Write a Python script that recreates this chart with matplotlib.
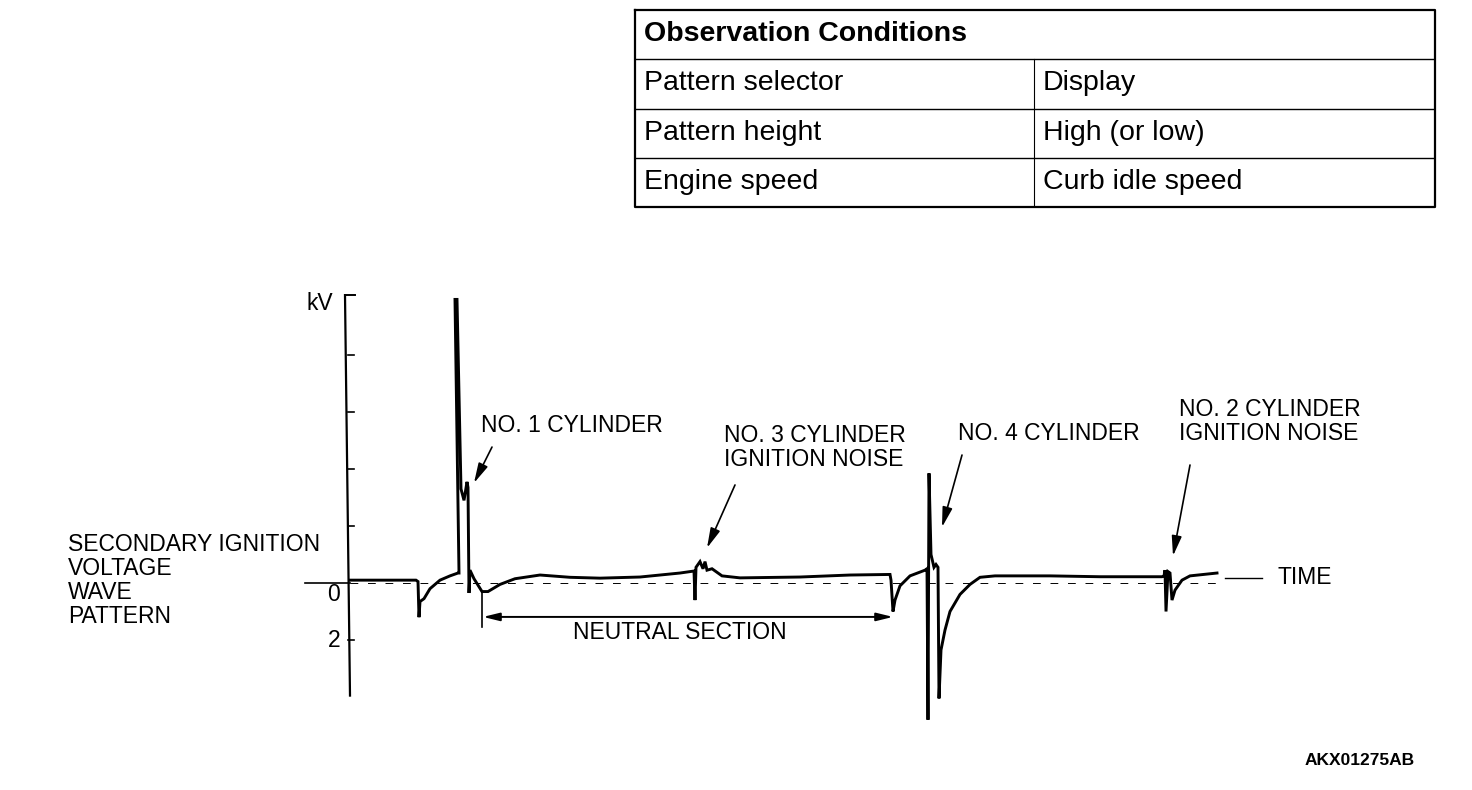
import matplotlib.pyplot as plt
import numpy as np

plt.rcParams['font.family'] = ['Liberation Sans', 'DejaVu Sans']

# secondary ignition voltage trace: time (arbitrary units), voltage (kV)
t_trace = [0, 66, 68, 69, 70, 74, 80, 90, 100, 108, 109,
           105, 107, 111, 114, 117, 118, 119, 120, 124, 132, 138, 150, 165, 190, 220, 250, 290, 330, 344,
           345, 346, 350, 353, 355, 357, 362, 372, 390, 450, 500, 540,
           541, 543, 545, 550, 560, 575, 577, 578, 579, 581, 584, 586, 588, 589, 591, 595, 600, 610, 620,
           630, 645, 700, 750, 812, 814,
           815, 816, 818, 820, 822, 825, 832, 840, 867]
kv_trace = [0.1, 0.1, 0.05, -1.2, -0.65, -0.55, -0.2, 0.1, 0.25, 0.35, 0.35,
            9.95, 9.95, 3.3, 2.9, 3.55, 3.35, -0.35, 0.45, 0.15, -0.3, -0.3, -0.05, 0.15, 0.28, 0.2, 0.17, 0.21, 0.35, 0.42,
            -0.6, 0.55, 0.75, 0.5, 0.75, 0.45, 0.5, 0.25, 0.18, 0.21, 0.28, 0.3,
            0.1, -1.0, -0.6, -0.1, 0.25, 0.45, 0.5, -4.8, 3.85, 1.0, 0.55, 0.65, 0.55, -4.05, -2.35, -1.65, -1.0, -0.4, -0.05,
            0.2, 0.25, 0.25, 0.22, 0.22, 0.25,
            0.45, -1.0, 0.4, 0.35, -0.6, -0.25, 0.1, 0.25, 0.35]

kv_ticks = [2, 4, 6, 8, -2]
kv_top = 10.1
kv_bottom = -3.95

# annotations: text, text pos, arrow start, arrow end
notes = [
    ("NO. 1 CYLINDER", (131, 5.51), (142, 4.77), (124, 3.51)),
    ("NO. 3 CYLINDER\nIGNITION NOISE", (374, 4.75), (385, 3.44), (357, 1.23)),
    ("NO. 4 CYLINDER", (608, 5.26), (612, 4.49), (592, 1.96)),
    ("NO. 2 CYLINDER\nIGNITION NOISE", (829, 5.67), (840, 4.14), (823, 0.95)),
]
neutral_start, neutral_end, neutral_kv = 133, 543, -1.19

table_rows = [("Pattern selector", "Display"),
              ("Pattern height", "High (or low)"),
              ("Engine speed", "Curb idle speed")]

fig = plt.figure(figsize=(14.72, 7.90), dpi=100)
ax = fig.add_axes([0, 0, 1, 1])
ax.set_xlim(-350, 1122)
ax.set_ylim(-7.263, 20.456)
ax.axis('off')

# reference line (0 kV)
ax.plot([-45, 0], [0, 0], color='black', lw=1.2)
ax.plot([0, 870], [0, 0], color='black', lw=0.7, ls=(0, (8, 10)))
ax.plot([875, 912], [0.18, 0.18], color='black', lw=1.0)

# vertical kV axis
ax.plot([-5, 0], [kv_top, kv_bottom], color='black', lw=1.6)
ax.plot([-5, 5], [kv_top, kv_top], color='black', lw=1.4)
for k in kv_ticks:
    ax.plot([-2, 4], [k, k], color='black', lw=1.2)

ax.plot(t_trace, kv_trace, color='black', lw=2.1, solid_joinstyle='miter')

fs = 16.5
ls = 1.06
ax.text(-30, 9.8, "kV", ha='center', va='center', fontsize=fs)
ax.text(-16, -0.42, "0", ha='center', va='center', fontsize=fs)
ax.text(-16, -2.0, "2", ha='center', va='center', fontsize=fs)
ax.text(927, 0.18, "TIME", ha='left', va='center', fontsize=fs)
ax.text(-282, 0.09, "SECONDARY IGNITION\nVOLTAGE\nWAVE\nPATTERN", ha='left', va='center',
        fontsize=fs, linespacing=ls)

for txt, pos, a0, a1 in notes:
    ax.text(pos[0], pos[1], txt, ha='left', va='center', fontsize=fs, linespacing=ls)
    ax.annotate("", xy=a1, xytext=a0,
                arrowprops=dict(arrowstyle='-|>,head_width=0.25,head_length=1.0', lw=1.2,
                                color='black', mutation_scale=12, shrinkA=0, shrinkB=0))

# neutral section
ax.plot([neutral_start - 1, neutral_start - 1], [-0.3, -1.55], color='black', lw=1.2)
ax.annotate("", xy=(neutral_start, neutral_kv), xytext=(neutral_end, neutral_kv),
            arrowprops=dict(arrowstyle='<|-|>,head_width=0.22,head_length=0.9', lw=1.4,
                            color='black', mutation_scale=11, shrinkA=0, shrinkB=0))
ax.text((neutral_start + neutral_end) / 2 - 8, -1.75, "NEUTRAL SECTION", ha='center', va='center',
        fontsize=fs)

ax.text(1415 - 350, (583 - 760) / 28.5, "AKX01275AB", ha='right', va='center', fontsize=12.5,
        fontweight='bold')

# observation conditions table
tx = fig.add_axes([635 / 1472, 1 - 207 / 790, 800 / 1472, 197 / 790])
tx.set_xlim(0, 800)
tx.set_ylim(196, 0)
tx.axis('off')
tx.plot([0, 800, 800, 0, 0], [0, 0, 196, 196, 0], color='black', lw=1.6, clip_on=False)
for yy in [49, 98, 147]:
    tx.plot([0, 800], [yy, yy], color='black', lw=1.0)
tx.plot([399, 399], [49, 196], color='black', lw=0.8)
tfs = 20.5
tx.text(9, 24, "Observation Conditions", ha='left', va='center', fontsize=tfs, fontweight='bold')
for i, (a, b) in enumerate(table_rows):
    yc = 49 * (i + 1) + 24
    tx.text(9, yc, a, ha='left', va='center', fontsize=tfs)
    tx.text(408, yc, b, ha='left', va='center', fontsize=tfs)

fig.savefig('out.png', dpi=100)
